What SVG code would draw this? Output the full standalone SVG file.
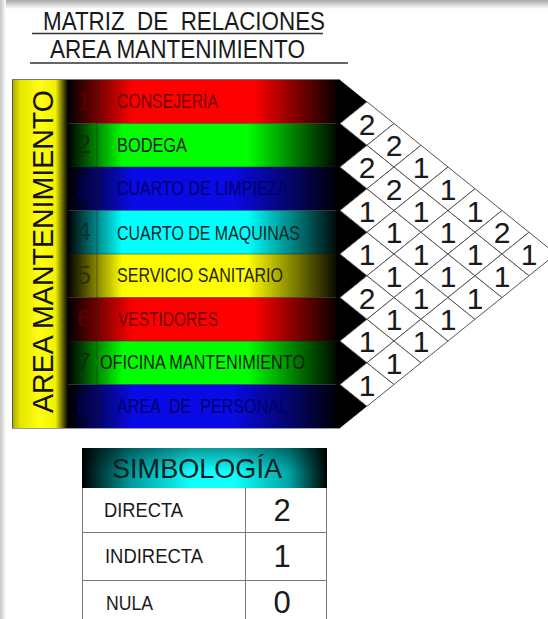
<svg xmlns="http://www.w3.org/2000/svg" xmlns:xlink="http://www.w3.org/1999/xlink" width="548" height="619" viewBox="0 0 548 619">
<style>
.t{font-family:"Liberation Sans",Arial,sans-serif}
.title{font-size:25.5px;fill:#1a1a1a}
.lbl{font-size:21px}
.num{font-size:25px;text-anchor:middle}
.cell{fill:#fff;stroke:#555;stroke-width:1}
.val{font-size:30px;fill:#1a1a1a;text-anchor:middle}
.sep{stroke:#1a1a1a;stroke-opacity:0.45;stroke-width:1}
.lg{font-size:20px;fill:#1a1a1a}
.lgv{font-size:31px;fill:#1a1a1a;text-anchor:middle}
.grid{stroke:#7a7a7a;stroke-width:1;fill:none}
</style>
<defs>
<linearGradient id="gTop" x1="0" y1="0" x2="0" y2="1"><stop offset="0" stop-color="#a8a8a8"/><stop offset="1" stop-color="#fff"/></linearGradient>
<linearGradient id="gLeft" x1="0" y1="0" x2="1" y2="0"><stop offset="0" stop-color="#c4c4c4"/><stop offset="1" stop-color="#fff"/></linearGradient>
<linearGradient id="gYel" gradientUnits="userSpaceOnUse" x1="12" y1="0" x2="68" y2="0"><stop offset="0" stop-color="#a8a800"/><stop offset="0.15" stop-color="#e6e600"/><stop offset="0.5" stop-color="#ffff10"/><stop offset="0.78" stop-color="#f0f000"/><stop offset="0.9" stop-color="#6a6a00"/><stop offset="1" stop-color="#000"/></linearGradient>
<linearGradient id="gR" gradientUnits="userSpaceOnUse" x1="68" y1="0" x2="340" y2="0"><stop offset="0" stop-color="#000"/><stop offset="0.24" stop-color="#ff0000"/><stop offset="0.68" stop-color="#ff0000"/><stop offset="1" stop-color="#000"/></linearGradient>
<linearGradient id="gG" gradientUnits="userSpaceOnUse" x1="68" y1="0" x2="340" y2="0"><stop offset="0" stop-color="#000"/><stop offset="0.2" stop-color="#00ff00"/><stop offset="0.66" stop-color="#00ff00"/><stop offset="1" stop-color="#000"/></linearGradient>
<linearGradient id="gB" gradientUnits="userSpaceOnUse" x1="68" y1="0" x2="340" y2="0"><stop offset="0" stop-color="#000"/><stop offset="0.24" stop-color="#0a0ae6"/><stop offset="0.6" stop-color="#0a0ae6"/><stop offset="1" stop-color="#000"/></linearGradient>
<linearGradient id="gC" gradientUnits="userSpaceOnUse" x1="68" y1="0" x2="340" y2="0"><stop offset="0" stop-color="#000"/><stop offset="0.2" stop-color="#00ffff"/><stop offset="0.66" stop-color="#00ffff"/><stop offset="1" stop-color="#000"/></linearGradient>
<linearGradient id="gY" gradientUnits="userSpaceOnUse" x1="68" y1="0" x2="340" y2="0"><stop offset="0" stop-color="#000"/><stop offset="0.2" stop-color="#ffff00"/><stop offset="0.66" stop-color="#ffff00"/><stop offset="1" stop-color="#000"/></linearGradient>
<linearGradient id="gHead" gradientUnits="userSpaceOnUse" x1="82" y1="0" x2="327" y2="0"><stop offset="0" stop-color="#000"/><stop offset="0.2" stop-color="#009a9a"/><stop offset="0.45" stop-color="#10ffff"/><stop offset="0.62" stop-color="#10ffff"/><stop offset="0.84" stop-color="#00a8a8"/><stop offset="1" stop-color="#000"/></linearGradient>
<linearGradient id="gHeadV" x1="0" y1="0" x2="0" y2="1"><stop offset="0" stop-color="#000" stop-opacity="0.4"/><stop offset="0.6" stop-color="#000" stop-opacity="0"/></linearGradient>
<polygon id="dm" class="cell" points="-27,0 0,-21.75 27,0 0,21.75"/>
</defs>

<rect width="548" height="619" fill="#fff"/>
<rect x="0" y="0" width="548" height="9" fill="url(#gTop)"/>
<rect x="0" y="0" width="6" height="619" fill="url(#gLeft)"/>

<g id="title">
<text class="t title" x="43" y="30" textLength="282" lengthAdjust="spacingAndGlyphs" xml:space="preserve">MATRIZ  DE  RELACIONES</text>
<line x1="32" y1="33.5" x2="323" y2="33.5" stroke="#333" stroke-width="1.3"/>
<text class="t title" x="50" y="58" textLength="255" lengthAdjust="spacingAndGlyphs">AREA MANTENIMIENTO</text>
<line x1="30" y1="63" x2="348" y2="63" stroke="#333" stroke-width="1.3"/>
</g>

<g id="area-bar">
<rect x="12" y="80" width="56" height="348" fill="url(#gYel)"/>
<text class="t" x="53" y="251.5" font-size="29.5" fill="#141400" text-anchor="middle" textLength="323" lengthAdjust="spacingAndGlyphs" transform="rotate(-90 53 251.5)">AREA MANTENIMIENTO</text>
</g>

<g id="rows">
<g id="row1"><rect x="68" y="80" width="272" height="43.5" fill="url(#gR)"/><text class="t num" x="84" y="109.75" fill="#5a0000">1</text><text class="t lbl" x="117" y="108.25" fill="#6a0000" textLength="101" lengthAdjust="spacingAndGlyphs">CONSEJERÍA</text></g>
<g id="row2"><rect x="68" y="123.5" width="272" height="43.5" fill="url(#gG)"/><text class="t num" x="84" y="153.25" fill="#0a300a">2</text><text class="t lbl" x="117" y="151.75" fill="#142014" textLength="70" lengthAdjust="spacingAndGlyphs">BODEGA</text></g>
<g id="row3"><rect x="68" y="167" width="272" height="43.5" fill="url(#gB)"/><text class="t num" x="84" y="196.75" fill="#000060">3</text><text class="t lbl" x="117" y="195.25" fill="#00006a" textLength="171" lengthAdjust="spacingAndGlyphs">CUARTO DE LIMPIEZA</text></g>
<g id="row4"><rect x="68" y="210.5" width="272" height="43.5" fill="url(#gC)"/><text class="t num" x="84" y="240.25" fill="#0a3030">4</text><text class="t lbl" x="117" y="240" fill="#0e2828" textLength="183" lengthAdjust="spacingAndGlyphs">CUARTO DE MAQUINAS</text></g>
<g id="row5"><rect x="68" y="254" width="272" height="43.5" fill="url(#gY)"/><text class="t num" x="84" y="283.75" fill="#303000">5</text><text class="t lbl" x="117" y="282.25" fill="#262600" textLength="166" lengthAdjust="spacingAndGlyphs">SERVICIO SANITARIO</text></g>
<g id="row6"><rect x="68" y="297.5" width="272" height="43.5" fill="url(#gR)"/><text class="t num" x="84" y="327.25" fill="#5a0000">6</text><text class="t lbl" x="118" y="325.75" fill="#6a0000" textLength="100" lengthAdjust="spacingAndGlyphs">VESTIDORES</text></g>
<g id="row7"><rect x="68" y="341" width="272" height="43.5" fill="url(#gG)"/><text class="t num" x="84" y="370.75" fill="#0a300a">7</text><text class="t lbl" x="100" y="369.25" fill="#142014" textLength="205" lengthAdjust="spacingAndGlyphs">OFICINA MANTENIMIENTO</text></g>
<g id="row8"><rect x="68" y="384.5" width="272" height="43.5" fill="url(#gB)"/><text class="t num" x="84" y="414.25" fill="#000060">8</text><text class="t lbl" x="117" y="412.75" fill="#00006a" textLength="171" lengthAdjust="spacingAndGlyphs" xml:space="preserve">AREA  DE  PERSONAL</text></g>
<path d="M336,80 L340,80 L367,101.75 L340,123.5 L367,145.25 L340,167 L367,188.75 L340,210.5 L367,232.25 L340,254 L367,275.75 L340,297.5 L367,319.25 L340,341 L367,362.75 L340,384.5 L367,406.25 L340,428 L336,428 Z" fill="#000"/>
<line class="sep" x1="68" y1="123.5" x2="340" y2="123.5"/>
<line class="sep" x1="68" y1="167" x2="340" y2="167"/>
<line class="sep" x1="68" y1="210.5" x2="340" y2="210.5"/>
<line class="sep" x1="68" y1="254" x2="340" y2="254"/>
<line class="sep" x1="68" y1="297.5" x2="340" y2="297.5"/>
<line class="sep" x1="68" y1="341" x2="340" y2="341"/>
<line class="sep" x1="68" y1="384.5" x2="340" y2="384.5"/>
<line class="sep" x1="97" y1="80" x2="97" y2="428"/>
<line x1="12" y1="79.5" x2="340" y2="79.5" stroke="#777" stroke-width="1"/>
<line x1="12" y1="428.5" x2="340" y2="428.5" stroke="#999" stroke-width="1"/>
<line x1="12.5" y1="80" x2="12.5" y2="428" stroke="#555" stroke-width="1"/>
</g>

<g id="matrix">
<use xlink:href="#dm" x="367" y="123.5"/><use xlink:href="#dm" x="367" y="167"/><use xlink:href="#dm" x="367" y="210.5"/><use xlink:href="#dm" x="367" y="254"/><use xlink:href="#dm" x="367" y="297.5"/><use xlink:href="#dm" x="367" y="341"/><use xlink:href="#dm" x="367" y="384.5"/>
<use xlink:href="#dm" x="394" y="145.25"/><use xlink:href="#dm" x="394" y="188.75"/><use xlink:href="#dm" x="394" y="232.25"/><use xlink:href="#dm" x="394" y="275.75"/><use xlink:href="#dm" x="394" y="319.25"/><use xlink:href="#dm" x="394" y="362.75"/>
<use xlink:href="#dm" x="421" y="167"/><use xlink:href="#dm" x="421" y="210.5"/><use xlink:href="#dm" x="421" y="254"/><use xlink:href="#dm" x="421" y="297.5"/><use xlink:href="#dm" x="421" y="341"/>
<use xlink:href="#dm" x="448" y="188.75"/><use xlink:href="#dm" x="448" y="232.25"/><use xlink:href="#dm" x="448" y="275.75"/><use xlink:href="#dm" x="448" y="319.25"/>
<use xlink:href="#dm" x="475" y="210.5"/><use xlink:href="#dm" x="475" y="254"/><use xlink:href="#dm" x="475" y="297.5"/>
<use xlink:href="#dm" x="502" y="232.25"/><use xlink:href="#dm" x="502" y="275.75"/>
<use xlink:href="#dm" x="529" y="254"/>
<g class="t">
<text class="val" x="367" y="134.5">2</text><text class="val" x="367" y="178">2</text><text class="val" x="367" y="221.5">1</text><text class="val" x="367" y="265">1</text><text class="val" x="367" y="308.5">2</text><text class="val" x="367" y="352">1</text><text class="val" x="367" y="395.5">1</text>
<text class="val" x="394" y="156.25">2</text><text class="val" x="394" y="199.75">2</text><text class="val" x="394" y="243.25">1</text><text class="val" x="394" y="286.75">1</text><text class="val" x="394" y="330.25">1</text><text class="val" x="394" y="373.75">1</text>
<text class="val" x="421" y="178">1</text><text class="val" x="421" y="221.5">1</text><text class="val" x="421" y="265">1</text><text class="val" x="421" y="308.5">1</text><text class="val" x="421" y="352">1</text>
<text class="val" x="448" y="199.75">1</text><text class="val" x="448" y="243.25">1</text><text class="val" x="448" y="286.75">1</text><text class="val" x="448" y="330.25">1</text>
<text class="val" x="475" y="221.5">1</text><text class="val" x="475" y="265">1</text><text class="val" x="475" y="308.5">1</text>
<text class="val" x="502" y="243.25">2</text><text class="val" x="502" y="286.75">1</text>
<text class="val" x="529" y="265">1</text>
</g>
</g>

<g id="legend">
<rect x="82" y="448" width="245" height="40" fill="url(#gHead)"/>
<rect x="82" y="448" width="245" height="40" fill="url(#gHeadV)"/>
<text class="t" x="112" y="478" font-size="28" fill="#0a2020" textLength="170" lengthAdjust="spacingAndGlyphs">SIMBOLOGÍA</text>
<g class="grid">
<line x1="82.5" y1="488" x2="82.5" y2="619"/>
<line x1="326.5" y1="488" x2="326.5" y2="619"/>
<line x1="245.5" y1="488" x2="245.5" y2="619"/>
<line x1="82" y1="532.5" x2="327" y2="532.5"/>
<line x1="82" y1="580.5" x2="327" y2="580.5"/>
</g>
<text class="t lg" x="104" y="517" textLength="79" lengthAdjust="spacingAndGlyphs">DIRECTA</text>
<text class="t lg" x="105" y="563" textLength="98" lengthAdjust="spacingAndGlyphs">INDIRECTA</text>
<text class="t lg" x="106" y="610" textLength="47" lengthAdjust="spacingAndGlyphs">NULA</text>
<text class="t lgv" x="282" y="521">2</text>
<text class="t lgv" x="282" y="567">1</text>
<text class="t lgv" x="282" y="613">0</text>
</g>
</svg>
